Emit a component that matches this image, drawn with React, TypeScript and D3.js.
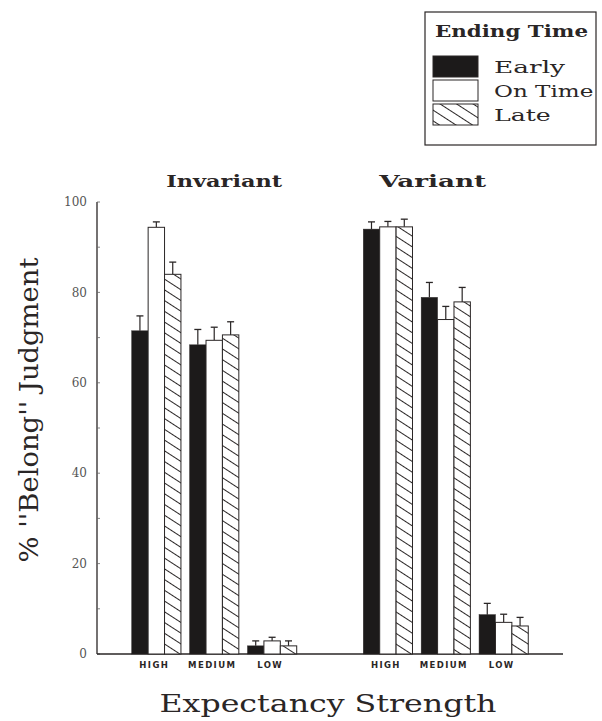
import React from 'react';
import * as d3 from 'd3';

// data (percent "belong" judgments, upper error in % points)
const categories = ['HIGH', 'MEDIUM', 'LOW'];
const conditions = ['Invariant', 'Variant'];
const series = ['Early', 'On Time', 'Late'];

const invariantEarly = [71.5, 68.4, 1.8];
const invariantOnTime = [94.4, 69.4, 2.9];
const invariantLate = [84.0, 70.6, 1.8];
const invariantEarlyErr = [3.3, 3.4, 1.1];
const invariantOnTimeErr = [1.2, 2.9, 0.8];
const invariantLateErr = [2.7, 2.9, 1.1];

const variantEarly = [94.0, 78.9, 8.7];
const variantOnTime = [94.5, 74.0, 7.0];
const variantLate = [94.5, 77.9, 6.2];
const variantEarlyErr = [1.6, 3.3, 2.5];
const variantOnTimeErr = [1.2, 2.9, 1.8];
const variantLateErr = [1.7, 3.2, 1.9];

const yTicks = [0, 20, 40, 60, 80, 100];

const means: Record<string, number[][]> = {
  Invariant: [invariantEarly, invariantOnTime, invariantLate],
  Variant: [variantEarly, variantOnTime, variantLate],
};
const errs: Record<string, number[][]> = {
  Invariant: [invariantEarlyErr, invariantOnTimeErr, invariantLateErr],
  Variant: [variantEarlyErr, variantOnTimeErr, variantLateErr],
};

const width = 602;
const height = 721;
const serif = '"DejaVu Serif", serif';

const App = () => {
  // one empty slot between the two panels
  const slots = [
    ...categories.map(c => `Invariant-${c}`),
    'gap',
    ...categories.map(c => `Variant-${c}`),
  ];
  const x = d3.scaleBand().domain(slots).range([97, 563]).paddingInner(0.15).paddingOuter(0.6);
  const xs = d3.scaleBand().domain(series).range([0, x.bandwidth()]);
  const y = d3.scaleLinear().domain([0, 100]).range([654, 202]);

  const fills = ['#1c1a1a', '#ffffff', 'url(#hatch)'];
  const ink = '#2a2626';

  const panelCenter = (cond: string) =>
    ((x(`${cond}-HIGH`) as number) + (x(`${cond}-LOW`) as number) + x.bandwidth()) / 2;

  return (
    <div style={{ position: 'absolute', left: 0, top: 0 }}>
      <svg width={width} height={height} style={{ display: 'block', background: '#fff' }}>
        <defs>
          <pattern id="hatch" width="9" height="9" patternUnits="userSpaceOnUse" patternTransform="rotate(33)">
            <rect width="9" height="9" fill="#fff" />
            <line x1="0" y1="0.5" x2="9" y2="0.5" stroke={ink} strokeWidth="1" />
          </pattern>
        </defs>

        {/* y axis */}
        <line x1={97} x2={97} y1={y(100)} y2={y(0)} stroke={ink} strokeWidth={1.3} />
        {d3.range(0, 101, 10).map(t => (
          <line key={t} x1={97} x2={100} y1={y(t)} y2={y(t)} stroke="#666" strokeWidth={0.8} />
        ))}
        {yTicks.map(t => (
          <text key={t} x={87} y={y(t)} dy="0.35em" textAnchor="end"
            fontFamily={serif} fontSize={12} fill="#555">{t}</text>
        ))}
        {/* x axis */}
        <line x1={97} x2={563} y1={y(0)} y2={y(0)} stroke={ink} strokeWidth={1.5} />

        {conditions.map(cond => (
          <g key={cond}>
            {categories.map((cat, ci) => {
              const x0 = x(`${cond}-${cat}`) as number;
              return (
                <g key={cat}>
                  {series.map((s, si) => {
                    const v = means[cond][si][ci];
                    const e = errs[cond][si][ci];
                    const bx = x0 + (xs(s) as number);
                    const cx = bx + xs.bandwidth() / 2;
                    return (
                      <g key={s}>
                        <line x1={cx} x2={cx} y1={y(v)} y2={y(v + e)} stroke={ink} strokeWidth={1.2} />
                        <line x1={cx - 3.5} x2={cx + 3.5} y1={y(v + e)} y2={y(v + e)} stroke={ink} strokeWidth={1.3} />
                        <rect x={bx} y={y(v)} width={xs.bandwidth()} height={y(0) - y(v)}
                          fill={fills[si]} stroke={ink} strokeWidth={si === 0 ? 0.5 : 1} />
                      </g>
                    );
                  })}
                  <text x={x0 + x.bandwidth() / 2 - 2} y={668} textAnchor="middle"
                    fontFamily='"DejaVu Sans", sans-serif' fontWeight="bold" fontSize={8.5}
                    letterSpacing={1.4} fill={ink}>{cat}</text>
                </g>
              );
            })}
          </g>
        ))}

        {/* panel titles */}
        <text x={panelCenter('Invariant') + 10} y={187} textAnchor="middle" fontFamily={serif}
          fontWeight="bold" fontSize={16} fill={ink} textLength={116} lengthAdjust="spacingAndGlyphs">Invariant</text>
        <text x={panelCenter('Variant') - 13} y={187} textAnchor="middle" fontFamily={serif}
          fontWeight="bold" fontSize={16} fill={ink} textLength={107} lengthAdjust="spacingAndGlyphs">Variant</text>

        {/* axis titles */}
        <text x={328} y={712} textAnchor="middle" fontFamily={serif} fontSize={24} fill={ink}
          textLength={337} lengthAdjust="spacingAndGlyphs">Expectancy Strength</text>
        <text transform="translate(38,410) rotate(-90)" textAnchor="middle" fontFamily={serif}
          fontSize={26} fill={ink} textLength={305} lengthAdjust="spacingAndGlyphs">% ''Belong'' Judgment</text>

        {/* legend */}
        <g>
          <rect x={425} y={12} width={171} height={133} fill="#fff" stroke={ink} strokeWidth={1.2} />
          <text x={435} y={37} fontFamily={serif} fontWeight="bold" fontSize={17} fill={ink}
            textLength={153} lengthAdjust="spacingAndGlyphs">Ending Time</text>
          {series.map((s, i) => (
            <g key={s}>
              <rect x={433} y={56 + i * 24} width={45} height={21} fill={fills[i]} stroke={ink} strokeWidth={1} />
              <text x={494} y={73 + i * 24} fontFamily={serif} fontSize={17} fill={ink}
                textLength={s.length * 14.2} lengthAdjust="spacingAndGlyphs">{s}</text>
            </g>
          ))}
        </g>
      </svg>
    </div>
  );
};

export default App;
